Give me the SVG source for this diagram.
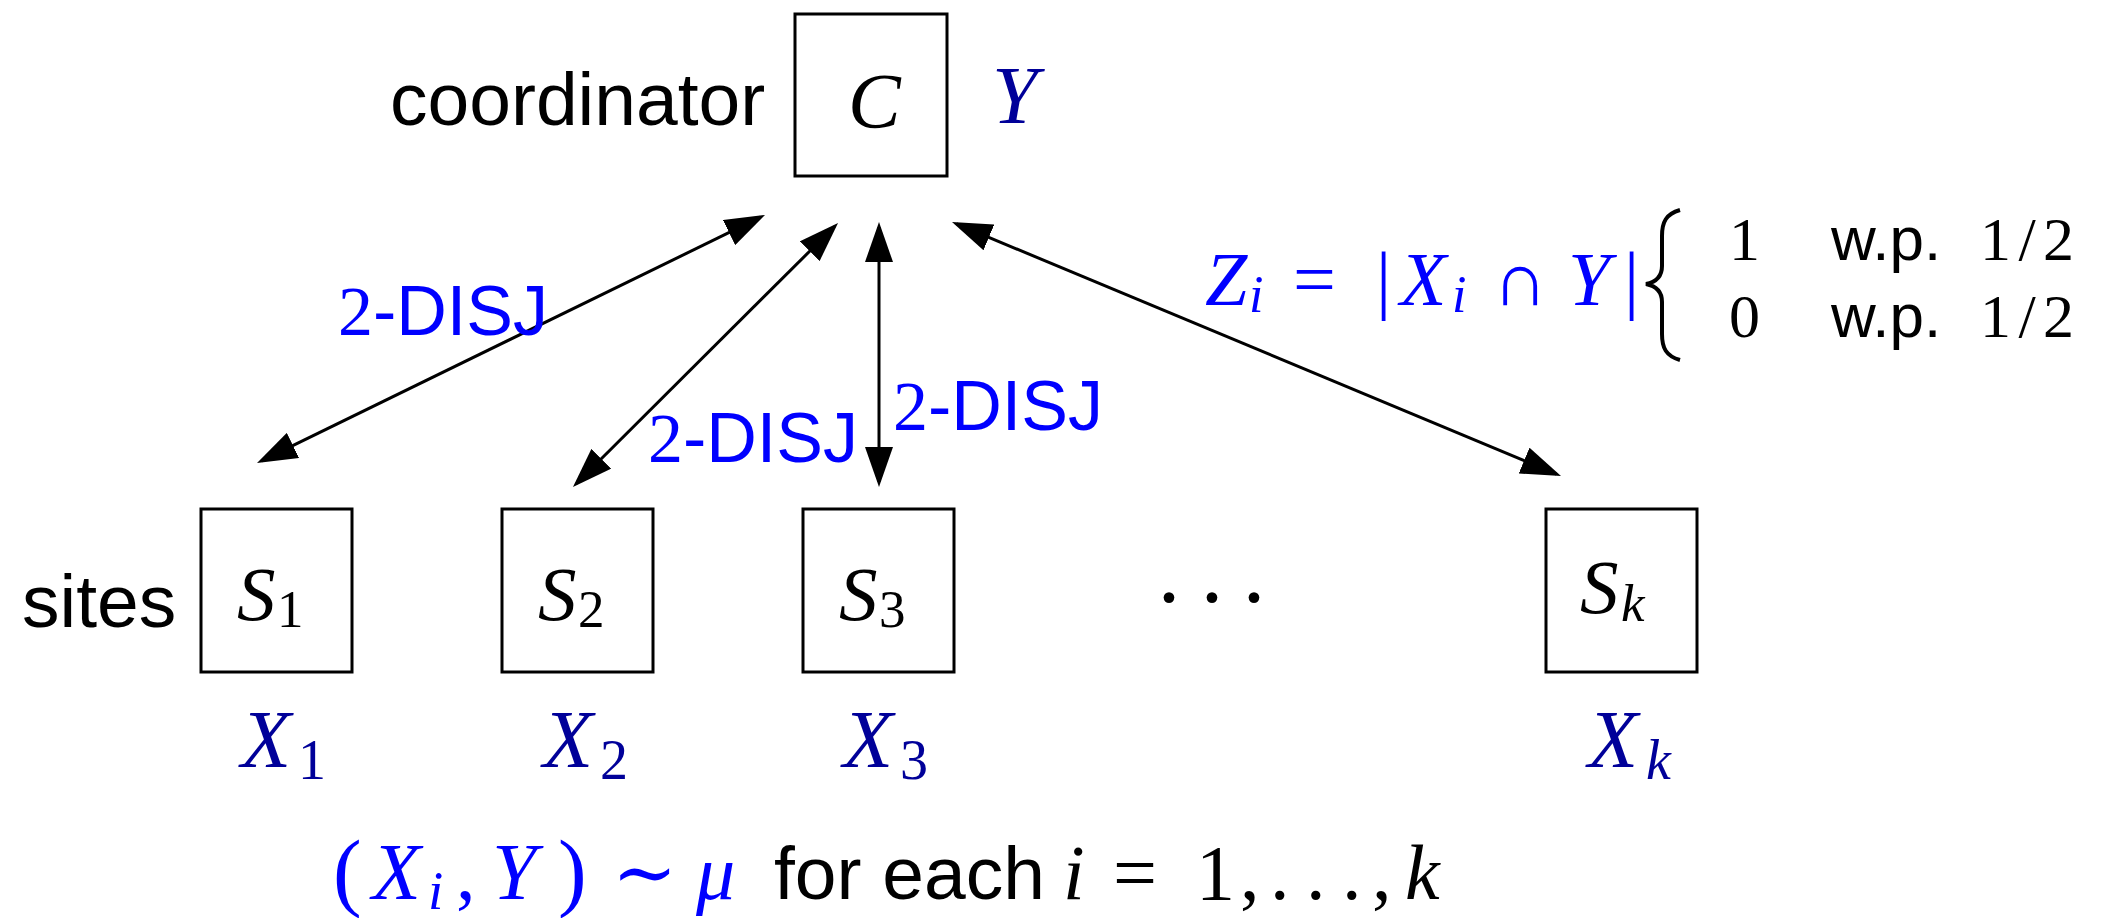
<svg xmlns="http://www.w3.org/2000/svg" width="2119" height="918" viewBox="0 0 2119 918">
<defs>
<style>
.box{fill:#fff;stroke:#000;stroke-width:3}
.sans{font-family:"Liberation Sans",Arial,sans-serif;fill:#000}
.serif{font-family:"Liberation Serif","DejaVu Serif",serif;fill:#000}
.it{font-style:italic}
.dblue{fill:#000099}
.blue{fill:#0000ff}
.conn{stroke:#000;stroke-width:3;fill:none;marker-start:url(#ah);marker-end:url(#ah)}
</style>
<marker id="ah" markerUnits="userSpaceOnUse" markerWidth="40" markerHeight="28" refX="35" refY="14" orient="auto-start-reverse" viewBox="0 0 40 28">
<path d="M0,0 L40,14 L0,28 z" fill="#000"/>
</marker>
</defs>
<rect width="2119" height="918" fill="#fff"/>

<g id="coordinator">
<rect class="box" x="795" y="14" width="152" height="162"/>
<text class="sans" x="390" y="125" font-size="75">coordinator</text>
<text class="serif it" x="848" y="127" font-size="79">C</text>
<text class="serif it dblue" x="992" y="123" font-size="82">Y</text>
</g>

<g id="site1">
<rect class="box" x="201" y="509" width="151" height="163"/>
<text class="sans" x="22" y="627" font-size="75">sites</text>
<text class="serif it" x="237" y="620" font-size="77">S</text>
<text class="serif" x="277" y="627" font-size="53">1</text>
<text class="serif it dblue" x="241" y="767" font-size="82">X</text>
<text class="serif dblue" x="298" y="779" font-size="56">1</text>
</g>

<g id="site2">
<rect class="box" x="502" y="509" width="151" height="163"/>
<text class="serif it" x="538" y="620" font-size="77">S</text>
<text class="serif" x="578" y="627" font-size="53">2</text>
<text class="serif it dblue" x="543" y="767" font-size="82">X</text>
<text class="serif dblue" x="600" y="779" font-size="56">2</text>
</g>

<g id="site3">
<rect class="box" x="803" y="509" width="151" height="163"/>
<text class="serif it" x="839" y="620" font-size="77">S</text>
<text class="serif" x="879" y="627" font-size="53">3</text>
<text class="serif it dblue" x="843" y="767" font-size="82">X</text>
<text class="serif dblue" x="900" y="779" font-size="56">3</text>
</g>

<g id="dots">
<text class="serif" y="628" font-size="90" text-anchor="middle" x="1169 1212 1254">···</text>
</g>

<g id="sitek">
<rect class="box" x="1546" y="509" width="151" height="163"/>
<text class="serif it" x="1580" y="613" font-size="77">S</text>
<text class="serif it" x="1621" y="621" font-size="53">k</text>
<text class="serif it dblue" x="1588" y="767" font-size="82">X</text>
<text class="serif it dblue" x="1646" y="779" font-size="56">k</text>
</g>

<g id="connectors">
<path class="conn" d="M261.5,460.8 L760.5,217.2"/>
<path class="conn" d="M576.5,483.5 L834.5,226.5"/>
<path class="conn" d="M879,482 L879,227"/>
<path class="conn" d="M1556.4,474.1 L956.6,223.9"/>
</g>

<g id="labels">
<text font-size="70" y="335" class="blue"><tspan class="serif blue" x="338">2</tspan><tspan class="sans blue">-DISJ</tspan></text>
<text font-size="70" y="462" class="blue"><tspan class="serif blue" x="648">2</tspan><tspan class="sans blue">-DISJ</tspan></text>
<text font-size="70" y="430" class="blue"><tspan class="serif blue" x="893">2</tspan><tspan class="sans blue">-DISJ</tspan></text>
</g>

<g id="zformula">
<text class="serif it blue" x="1205" y="305" font-size="76">Z</text>
<text class="serif it blue" x="1249" y="312" font-size="52">i</text>
<text class="serif blue" x="1293" y="305" font-size="76">=</text>
<text class="serif blue" x="1376" y="305" font-size="76">|</text>
<text class="serif it blue" x="1400" y="305" font-size="76">X</text>
<text class="serif it blue" x="1452" y="312" font-size="52">i</text>
<text class="serif blue" x="1493" y="305" font-size="76">∩</text>
<text class="serif it blue" x="1568" y="305" font-size="76">Y</text>
<text class="serif blue" x="1624" y="305" font-size="76">|</text>
<path d="M1680,210 C1666,214 1662,222 1662,236 L1662,266 C1662,277 1656,282 1646,284 C1656,286 1662,291 1662,302 L1662,334 C1662,348 1666,356 1680,360" fill="none" stroke="#000" stroke-width="4"/>
<text class="serif" x="1729" y="260" font-size="62">1</text>
<text class="sans" x="1831" y="260" font-size="62">w.p.</text>
<text class="serif" x="1980" y="260" font-size="62" textLength="94" lengthAdjust="spacing">1/2</text>
<text class="serif" x="1729" y="337" font-size="62">0</text>
<text class="sans" x="1831" y="337" font-size="62">w.p.</text>
<text class="serif" x="1980" y="337" font-size="62" textLength="94" lengthAdjust="spacing">1/2</text>
</g>

<g id="bottom">
<text class="serif blue" x="333" y="900" font-size="86">(</text>
<text class="serif it blue" x="372" y="899" font-size="80">X</text>
<text class="serif it blue" x="428" y="909" font-size="55">i</text>
<text class="serif blue" x="456" y="899" font-size="78">,</text>
<text class="serif it blue" x="492" y="899" font-size="80">Y</text>
<text class="serif blue" x="558" y="900" font-size="86">)</text>
<text class="serif blue" x="612" y="899" font-size="78">∼</text>
<text class="serif it blue" x="696" y="899" font-size="78">μ</text>
<text class="sans" x="774" y="899" font-size="75">for each</text>
<text class="serif it" x="1063" y="899" font-size="78">i</text>
<text class="serif" x="1113" y="899" font-size="78">=</text>
<text class="serif" x="1196" y="899" font-size="78">1</text>
<text class="serif" y="899" font-size="78" x="1240 1270 1306 1342 1372">,...,</text>
<text class="serif it" x="1405" y="899" font-size="78">k</text>
</g>
</svg>
